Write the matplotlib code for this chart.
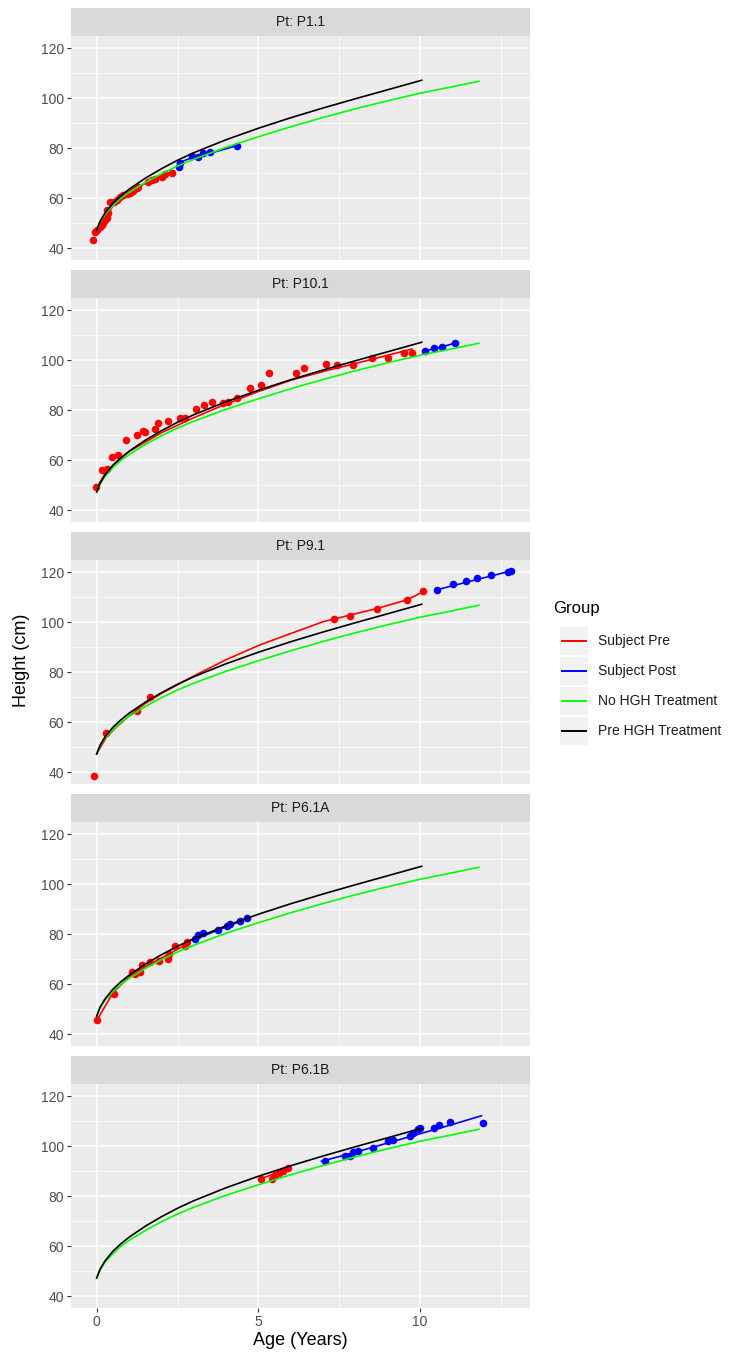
import matplotlib.pyplot as plt
from matplotlib.patches import Rectangle
from matplotlib.lines import Line2D

# reference growth curves, drawn in every panel
ref_age = [0, 0.1, 0.25, 0.5, 0.75, 1, 1.5, 2, 2.5, 3, 4, 5, 6, 7, 8, 9, 10, 11, 11.82]
no_hgh = [47.3, 50.5, 53.5, 57.0, 60.0, 62.3, 66.3, 69.8, 72.9, 75.6, 80.4, 84.6,
          88.6, 92.3, 95.8, 99.0, 102.0, 104.6, 106.8]
pre_age = [0, 0.1, 0.25, 0.5, 0.75, 1, 1.5, 2, 2.5, 3, 4, 5, 6, 7, 8, 9, 10.05]
pre_hgh = [47.3, 50.7, 54.0, 58.0, 61.0, 63.6, 68.0, 71.8, 75.2, 78.2, 83.4, 88.0,
           92.2, 96.1, 99.8, 103.4, 107.2]

patients = ["P1.1", "P10.1", "P9.1", "P6.1A", "P6.1B"]

# measured points, pre / post treatment
pre_x = {
    "P1.1": [-0.1, -0.05, 0.0, 0.1, 0.15, 0.2, 0.26, 0.31, 0.34, 0.31, 0.41, 0.52, 0.62,
             0.72, 0.82, 0.93, 1.03, 1.13, 1.24, 1.29, 1.6, 1.7, 1.8, 2.01, 2.1, 2.34],
    "P10.1": [-0.03, 0.15, 0.31, 0.46, 0.65, 0.91, 1.24, 1.44, 1.5, 1.8, 1.91, 2.22, 2.58,
              2.73, 3.07, 3.33, 3.58, 3.92, 4.07, 4.33, 4.74, 5.08, 5.34, 6.15, 6.41,
              7.09, 7.42, 7.92, 8.5, 9.0, 9.5, 9.76],
    "P9.1": [-0.08, 0.29, 1.26, 1.65, 7.34, 7.84, 8.68, 9.59, 10.1],
    "P6.1A": [0.0, 0.52, 1.08, 1.19, 1.34, 1.41, 1.65, 1.93, 2.2, 2.24, 2.42, 2.73, 2.78],
    "P6.1B": [5.07, 5.43, 5.52, 5.65, 5.77, 5.93],
}
pre_y = {
    "P1.1": [43.3, 46.5, 47.3, 48.7, 49.3, 50.0, 51.3, 52.0, 54.0, 55.3, 58.7, 58.7, 59.3,
             60.7, 61.3, 61.7, 62.3, 63.0, 64.0, 64.7, 66.7, 67.3, 67.6, 68.7, 69.7, 70.0],
    "P10.1": [49.1, 56.0, 56.3, 61.1, 62.0, 68.0, 70.0, 71.7, 71.2, 72.3, 75.0, 75.6, 77.0,
              77.0, 80.3, 81.9, 83.2, 82.9, 83.3, 84.7, 88.9, 90.0, 94.7, 94.7, 96.9,
              98.3, 98.0, 98.0, 101.1, 101.1, 102.9, 102.8],
    "P9.1": [38.7, 55.7, 64.7, 70.0, 101.5, 102.7, 105.5, 108.9, 112.4],
    "P6.1A": [45.7, 56.0, 64.9, 64.0, 64.9, 67.6, 68.9, 69.3, 70.0, 72.0, 75.3, 75.3, 76.9],
    "P6.1B": [87.1, 87.1, 88.7, 89.3, 90.0, 91.3],
}
post_x = {
    "P1.1": [2.53, 2.58, 2.94, 3.14, 3.3, 3.5, 4.33],
    "P10.1": [10.16, 10.42, 10.67, 11.08],
    "P9.1": [10.52, 11.01, 11.42, 11.75, 12.19, 12.73, 12.8],
    "P6.1A": [3.04, 3.14, 3.3, 3.74, 4.02, 4.12, 4.43, 4.64],
    "P6.1B": [7.06, 7.68, 7.84, 7.94, 8.09, 8.54, 9.02, 9.16, 9.69, 9.79, 9.95, 10.0,
              10.43, 10.59, 10.93, 11.94],
}
post_y = {
    "P1.1": [72.7, 74.0, 77.0, 76.7, 78.0, 78.4, 81.0],
    "P10.1": [103.6, 104.7, 105.3, 106.9],
    "P9.1": [112.9, 115.3, 116.7, 117.6, 118.9, 120.3, 120.5],
    "P6.1A": [78.0, 79.6, 80.7, 81.7, 83.3, 84.0, 85.3, 86.4],
    "P6.1B": [94.3, 96.3, 96.0, 97.6, 98.3, 99.3, 102.0, 102.7, 104.0, 105.3, 106.9, 107.3,
              107.3, 108.4, 109.6, 109.5],
}

# fitted subject lines
pre_fit_x = {
    "P1.1": [0, 0.5, 1, 1.5, 2, 2.4],
    "P10.1": [0, 0.25, 0.5, 1, 2, 3, 4, 5, 6, 7, 8, 9, 9.75],
    "P9.1": [0, 0.3, 0.6, 1, 1.5, 2, 3, 4, 5, 6, 7, 8, 8.7, 9.6, 10.1],
    "P6.1A": [0, 0.5, 1, 1.5, 2, 2.5, 2.8],
    "P6.1B": [5.07, 5.5, 5.93],
}
pre_fit_y = {
    "P1.1": [46.5, 57.0, 62.0, 66.0, 69.0, 71.0],
    "P10.1": [49.0, 54.5, 58.0, 63.5, 71.0, 77.0, 82.5, 87.5, 92.0, 95.5, 98.7, 102.0, 104.5],
    "P9.1": [47.5, 54.0, 58.0, 62.5, 67.5, 71.5, 78.5, 85.0, 90.7, 95.5, 100.2, 103.4,
             105.6, 109.0, 112.2],
    "P6.1A": [45.5, 56.5, 63.0, 67.0, 70.5, 74.0, 76.0],
    "P6.1B": [87.0, 89.0, 91.0],
}
post_fit_x = {
    "P1.1": [2.5, 3.0, 3.5, 4.33],
    "P10.1": [10.16, 10.42, 10.67, 11.08],
    "P9.1": [10.52, 12.8],
    "P6.1A": [3.04, 4.64],
    "P6.1B": [6.95, 8, 9, 10, 11, 11.9],
}
post_fit_y = {
    "P1.1": [74.0, 76.5, 78.0, 81.0],
    "P10.1": [103.6, 104.7, 105.3, 106.9],
    "P9.1": [113.0, 120.5],
    "P6.1A": [78.0, 86.2],
    "P6.1B": [94.0, 97.6, 101.3, 105.0, 108.7, 112.2],
}

groups = ["Subject Pre", "Subject Post", "No HGH Treatment", "Pre HGH Treatment"]
colors = ["#FF0000", "#0000FF", "#00FF00", "#000000"]

W, H = 734, 1353
fig = plt.figure(figsize=(W / 100, H / 100), dpi=100)
plt.rcParams['font.family'] = ['Liberation Sans', 'DejaVu Sans']


def px_axes(left, top, width, height):
    return fig.add_axes([left / W, 1 - (top + height) / H, width / W, height / H])


for i, pt in enumerate(patients):
    top = 8 + 262 * i
    # strip
    sax = px_axes(71, top, 459, 28)
    sax.set_facecolor("#D9D9D9")
    sax.set_xticks([])
    sax.set_yticks([])
    for s in sax.spines.values():
        s.set_visible(False)
    sax.text(0.5, 0.5, "Pt: " + pt, ha="center", va="center", fontsize=10, color="#1A1A1A",
             transform=sax.transAxes)

    ax = px_axes(71, top + 28, 459, 224)
    ax.set_facecolor("#EBEBEB")
    for s in ax.spines.values():
        s.set_visible(False)
    ax.set_xlim(-0.795, 13.4)
    ax.set_ylim(35.3, 124.9)
    ax.set_xticks([0, 5, 10])
    ax.set_xticks([2.5, 7.5, 12.5], minor=True)
    ax.set_yticks([40, 60, 80, 100, 120])
    ax.set_yticks([50, 70, 90, 110], minor=True)
    ax.grid(which="major", color="white", lw=1.1)
    ax.grid(which="minor", color="white", lw=0.55)
    ax.set_axisbelow(True)
    ax.tick_params(which="minor", length=0)
    ax.tick_params(which="major", length=3, width=0.8, color="#333333",
                   labelsize=10, labelcolor="#4D4D4D", pad=2)
    if i < 4:
        ax.tick_params(axis="x", which="both", length=0, labelbottom=False)

    ax.scatter(pre_x[pt], pre_y[pt], s=30, color=colors[0], lw=0, zorder=3)
    ax.scatter(post_x[pt], post_y[pt], s=30, color=colors[1], lw=0, zorder=3)
    ax.plot(pre_fit_x[pt], pre_fit_y[pt], color=colors[0], lw=1.2, zorder=4)
    ax.plot(post_fit_x[pt], post_fit_y[pt], color=colors[1], lw=1.2, zorder=4)
    ax.plot(ref_age, no_hgh, color=colors[2], lw=1.2, zorder=4)
    ax.plot(pre_age, pre_hgh, color=colors[3], lw=1.2, zorder=4)

    if i == 4:
        ax.set_xlabel("Age (Years)", fontsize=13, labelpad=2)

fig.text(22 / W, 1 - 660 / H, "Height (cm)", rotation=90, ha="center", va="center", fontsize=13)

# legend
lax = px_axes(540, 580, 194, 175)
lax.set_xlim(540, 734)
lax.set_ylim(755, 580)
lax.axis("off")
lax.text(553, 608, "Group", fontsize=12, va="center", ha="left")
for k, (g, c) in enumerate(zip(groups, colors)):
    yc = 641 + 30 * k
    lax.add_patch(Rectangle((559.5, yc - 14), 28, 28, facecolor="#F2F2F2", edgecolor="none"))
    lax.add_line(Line2D([561.5, 585.5], [yc, yc], color=c, lw=1.4))
    lax.text(598, yc, g, fontsize=10, va="center", ha="left", color="#1A1A1A")

fig.savefig("out.png", dpi=100)
